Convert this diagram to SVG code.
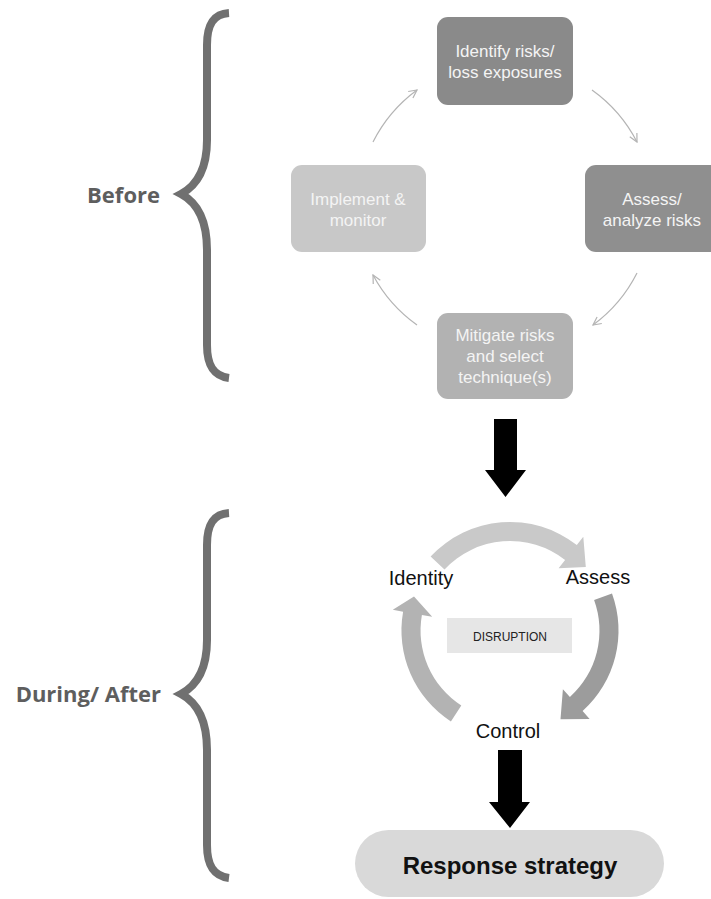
<svg xmlns="http://www.w3.org/2000/svg" width="711" height="899" viewBox="0 0 711 899">
  <defs>
    <style>
      .brace { fill: none; stroke: #707070; stroke-width: 8; }
      .side { font-family: "Open Sans", "Liberation Sans", sans-serif; font-weight: bold; font-size: 22px; fill: #5e5e5e; text-anchor: end; }
      .box-t { font-family: "Liberation Sans", Arial, sans-serif; font-size: 17px; fill: #f4f4f4; text-anchor: middle; }
      .thin { fill: none; stroke: #b4b4b4; stroke-width: 1.2; marker-end: url(#chev); }
      .lbl { font-family: "Liberation Sans", Arial, sans-serif; font-size: 20px; fill: #111111; text-anchor: middle; }
      .blk { fill: #000000; }
    </style>
    <marker id="chev" viewBox="0 0 10 10" refX="9" refY="5" markerWidth="10" markerHeight="10" markerUnits="userSpaceOnUse" orient="auto">
      <path d="M1,1 L9,5 L1,9" fill="none" stroke="#b4b4b4" stroke-width="1.2"/>
    </marker>
    <path id="bracePath" d="M229,13 C213,14 207,25 207,45 L207,140 C207,170 196,186 181,194 C196,202 207,218 207,250 L207,345 C207,365 213,376 229,378"/>
  </defs>

  <rect x="0" y="0" width="711" height="899" fill="#ffffff"/>

  <!-- Side labels and braces -->
  <g id="before">
    <use href="#bracePath" class="brace"/>
    <text class="side" x="160" y="203">Before</text>
  </g>
  <g id="during-after">
    <use href="#bracePath" class="brace" transform="translate(0,500)"/>
    <text class="side" x="161" y="702">During/ After</text>
  </g>

  <!-- Connectors -->
  <g id="connectors">
    <path class="thin" d="M592,90 A146,146 0 0 1 637,142"/>
    <path class="thin" d="M637,273 A146,146 0 0 1 593,325"/>
    <path class="thin" d="M417,325 A146,146 0 0 1 373,275"/>
    <path class="thin" d="M373,142 A146,146 0 0 1 417,90"/>
    <polygon class="blk" points="494,419 517,419 517,470 526,470 505.5,497 485,470 494,470"/>
    <polygon class="blk" points="498,750 522,750 522,802 530,802 510,828 489,802 498,802"/>
  </g>

  <!-- Before cycle nodes -->
  <g id="identify-risks">
    <rect x="437" y="17" width="136" height="88" rx="11" fill="#8a8a8a"/>
    <text class="box-t" x="505" y="57">Identify risks/</text>
    <text class="box-t" x="505" y="78">loss exposures</text>
  </g>
  <g id="assess-risks">
    <rect x="585" y="165" width="136" height="87" rx="11" fill="#8f8f8f"/>
    <text class="box-t" x="652" y="205">Assess/</text>
    <text class="box-t" x="652" y="226">analyze risks</text>
  </g>
  <g id="mitigate-risks">
    <rect x="437" y="313" width="136" height="86" rx="11" fill="#b2b2b2"/>
    <text class="box-t" x="505" y="341">Mitigate risks</text>
    <text class="box-t" x="505" y="362">and select</text>
    <text class="box-t" x="505" y="383">technique(s)</text>
  </g>
  <g id="implement-monitor">
    <rect x="291" y="165" width="135" height="87" rx="11" fill="#c8c8c8"/>
    <text class="box-t" x="358" y="205">Implement &amp;</text>
    <text class="box-t" x="358" y="226">monitor</text>
  </g>

  <!-- During / After cycle -->
  <g id="cycle-arrows">
    <path fill="#c9c9c9" d="M430.6,556.5 A108.5,108.5 0 0 1 576.8,545.0 L583.3,536.7 L585.8,566.9 L558.6,568.2 L565.1,560.0 A89.5,89.5 0 0 0 444.5,569.5 Z"/>
    <path fill="#9c9c9c" d="M612.0,593.4 A108.5,108.5 0 0 1 582.6,711.1 L589.6,718.9 L560.5,719.2 L562.9,689.2 L569.9,697.0 A89.5,89.5 0 0 0 594.1,599.9 Z"/>
    <path fill="#b3b3b3" d="M450.9,721.5 A108.5,108.5 0 0 1 403.1,611.7 L392.8,609.8 L414.0,596.6 L432.2,616.8 L421.9,615.0 A89.5,89.5 0 0 0 461.3,705.6 Z"/>
  </g>
  <g id="identity">
    <text class="lbl" x="421" y="585">Identity</text>
  </g>
  <g id="assess">
    <text class="lbl" x="598" y="584">Assess</text>
  </g>
  <g id="control">
    <text class="lbl" x="508" y="738">Control</text>
  </g>
  <g id="disruption">
    <rect x="447" y="618" width="125" height="35" fill="#e6e6e6"/>
    <text x="510" y="641" font-family="Liberation Sans, Arial, sans-serif" font-size="12" fill="#222222" text-anchor="middle">DISRUPTION</text>
  </g>

  <g id="response-strategy">
    <rect x="355" y="830" width="309" height="67" rx="33.5" fill="#d9d9d9"/>
    <text x="510" y="874" font-family="Liberation Sans, Arial, sans-serif" font-weight="bold" font-size="24" fill="#111111" text-anchor="middle">Response strategy</text>
  </g>
</svg>
